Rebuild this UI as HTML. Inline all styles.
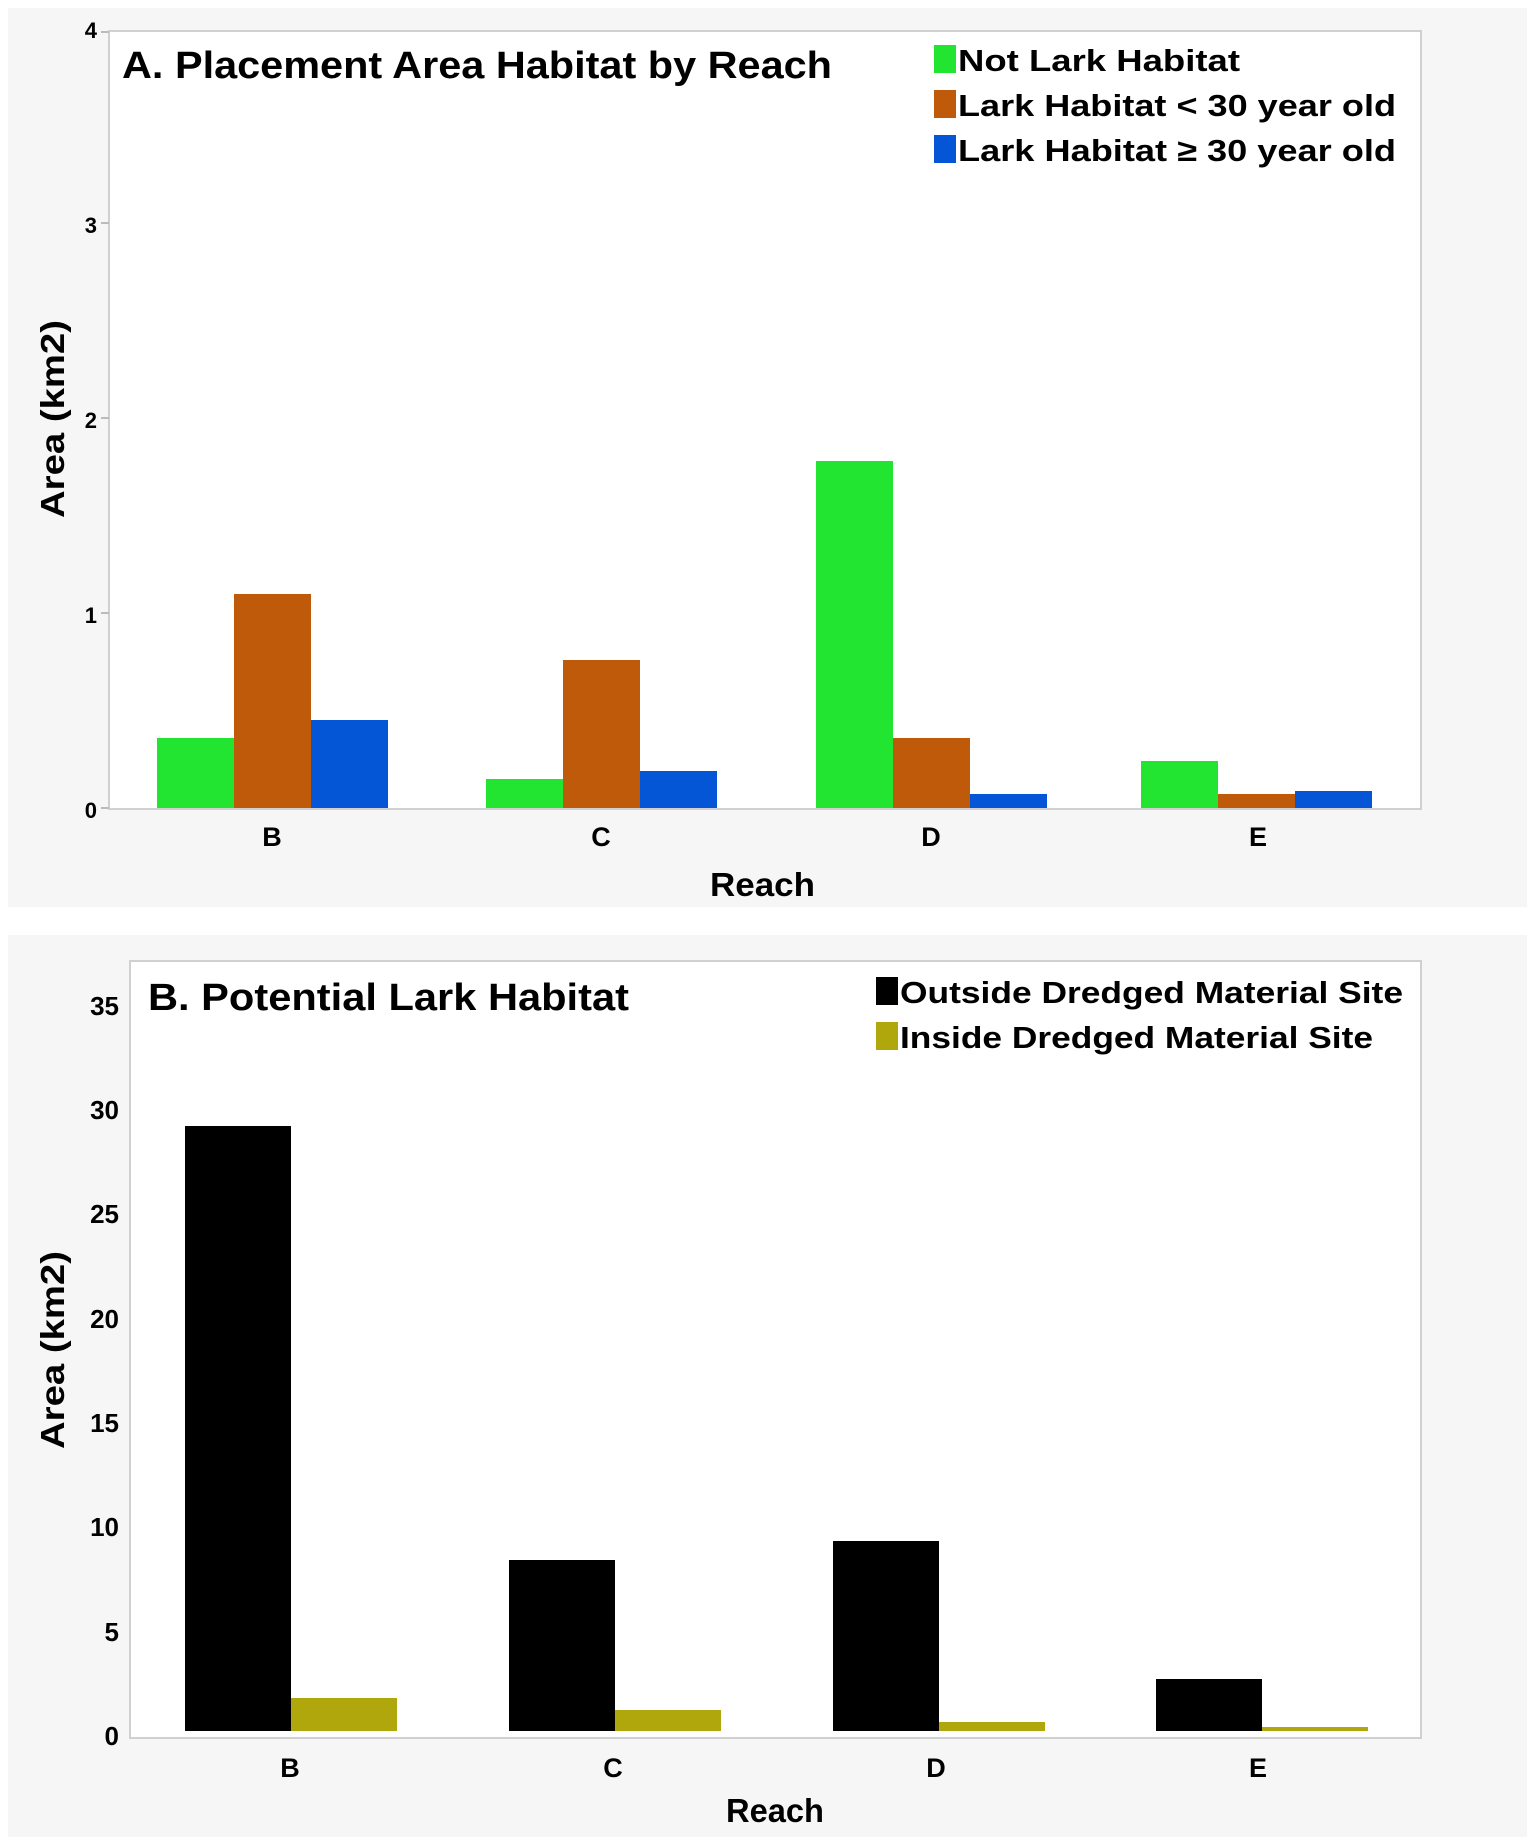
<!DOCTYPE html>
<html><head><meta charset="utf-8"><style>
html,body{margin:0;padding:0;background:#fff;}
svg{display:block;}
text{font-family:"Liberation Sans",sans-serif;font-weight:bold;fill:#000;}
</style></head><body>
<svg width="1535" height="1847" viewBox="0 0 1535 1847" xmlns="http://www.w3.org/2000/svg">
<rect width="1535" height="1847" fill="#fff"/>
<!-- Panel A -->
<rect x="8" y="8" width="1519" height="899" fill="#f6f6f6"/>
<rect x="109" y="31" width="1312" height="778" fill="#fff" stroke="#d0d0d0" stroke-width="2"/>
<g font-size="22" text-anchor="end">
<text x="97" y="818">0</text>
<text x="97" y="623">1</text>
<text x="97" y="428">2</text>
<text x="97" y="233">3</text>
<text x="97" y="38">4</text>
</g>
<g stroke="#bbb" stroke-width="2">
<line x1="101" y1="808" x2="109" y2="808"/><line x1="101" y1="613" x2="109" y2="613"/>
<line x1="101" y1="418" x2="109" y2="418"/><line x1="101" y1="223" x2="109" y2="223"/><line x1="101" y1="32" x2="109" y2="32"/>
</g>
<rect x="157" y="738" width="77" height="70" fill="#22e532"/>
<rect x="234" y="594" width="77" height="214" fill="#bf5a0a"/>
<rect x="311" y="720" width="77" height="88" fill="#0556d6"/>
<rect x="486" y="779" width="77" height="29" fill="#22e532"/>
<rect x="563" y="660" width="77" height="148" fill="#bf5a0a"/>
<rect x="640" y="771" width="77" height="37" fill="#0556d6"/>
<rect x="816" y="461" width="77" height="347" fill="#22e532"/>
<rect x="893" y="738" width="77" height="70" fill="#bf5a0a"/>
<rect x="970" y="794" width="77" height="14" fill="#0556d6"/>
<rect x="1141" y="761" width="77" height="47" fill="#22e532"/>
<rect x="1218" y="794" width="77" height="14" fill="#bf5a0a"/>
<rect x="1295" y="791" width="77" height="17" fill="#0556d6"/>
<g font-size="27" text-anchor="middle">
<text x="272" y="846">B</text><text x="601" y="846">C</text><text x="931" y="846">D</text><text x="1258" y="846">E</text>
</g>
<text x="710" y="896" font-size="33" textLength="105" lengthAdjust="spacingAndGlyphs">Reach</text>
<text transform="translate(64,419) rotate(-90)" font-size="33" text-anchor="middle" textLength="198" lengthAdjust="spacingAndGlyphs">Area (km2)</text>
<text x="122" y="78" font-size="38" textLength="710" lengthAdjust="spacingAndGlyphs">A. Placement Area Habitat by Reach</text>
<rect x="934" y="45" width="22" height="28" fill="#22e532"/>
<rect x="934" y="90" width="22" height="28" fill="#bf5a0a"/>
<rect x="934" y="135" width="22" height="28" fill="#0556d6"/>
<g font-size="31">
<text x="958" y="71" textLength="282" lengthAdjust="spacingAndGlyphs">Not Lark Habitat</text>
<text x="958" y="116" textLength="438" lengthAdjust="spacingAndGlyphs">Lark Habitat &lt; 30 year old</text>
<text x="958" y="161" textLength="438" lengthAdjust="spacingAndGlyphs">Lark Habitat ≥ 30 year old</text>
</g>
<!-- Panel B -->
<rect x="8" y="935" width="1519" height="902" fill="#f6f6f6"/>
<rect x="130" y="961" width="1291" height="777" fill="#fff" stroke="#d0d0d0" stroke-width="2"/>
<g font-size="26" text-anchor="end">
<text x="119" y="1745">0</text>
<text x="119" y="1641">5</text>
<text x="119" y="1536">10</text>
<text x="119" y="1432">15</text>
<text x="119" y="1328">20</text>
<text x="119" y="1223">25</text>
<text x="119" y="1119">30</text>
<text x="119" y="1015">35</text>
</g>
<rect x="185" y="1126" width="106" height="605" fill="#000"/>
<rect x="291" y="1698" width="106" height="33" fill="#b0a70c"/>
<rect x="509" y="1560" width="106" height="171" fill="#000"/>
<rect x="615" y="1710" width="106" height="21" fill="#b0a70c"/>
<rect x="833" y="1541" width="106" height="190" fill="#000"/>
<rect x="939" y="1722" width="106" height="9" fill="#b0a70c"/>
<rect x="1156" y="1679" width="106" height="52" fill="#000"/>
<rect x="1262" y="1727" width="106" height="4" fill="#b0a70c"/>
<g font-size="27" text-anchor="middle">
<text x="290" y="1777">B</text><text x="613" y="1777">C</text><text x="936" y="1777">D</text><text x="1258" y="1777">E</text>
</g>
<text x="726" y="1822" font-size="33" textLength="98" lengthAdjust="spacingAndGlyphs">Reach</text>
<text transform="translate(64,1350) rotate(-90)" font-size="33" text-anchor="middle" textLength="198" lengthAdjust="spacingAndGlyphs">Area (km2)</text>
<text x="148" y="1010" font-size="38" textLength="481" lengthAdjust="spacingAndGlyphs">B. Potential Lark Habitat</text>
<rect x="876" y="977" width="22" height="28" fill="#000"/>
<rect x="876" y="1022" width="22" height="28" fill="#b0a70c"/>
<g font-size="31">
<text x="900" y="1003" textLength="503" lengthAdjust="spacingAndGlyphs">Outside Dredged Material Site</text>
<text x="900" y="1048" textLength="473" lengthAdjust="spacingAndGlyphs">Inside Dredged Material Site</text>
</g>
</svg>
</body></html>
